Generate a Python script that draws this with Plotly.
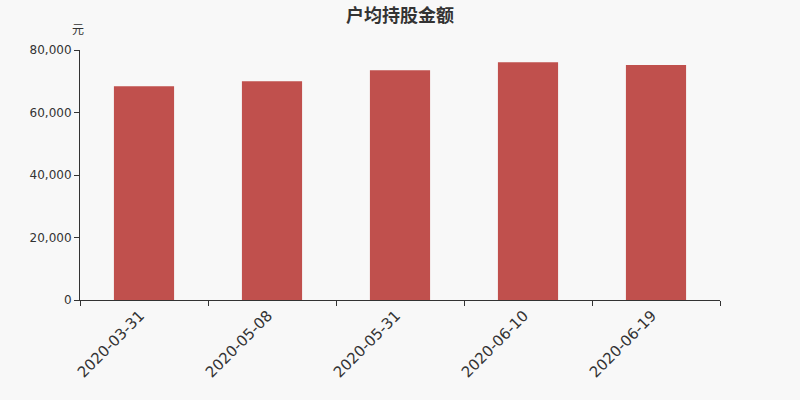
import plotly.graph_objects as go

# 户均持股金额 (元)
dates = ["2020-03-31", "2020-05-08", "2020-05-31", "2020-06-10", "2020-06-19"]
amounts = [68400, 70000, 73500, 76050, 75200]

BG = "#f8f8f8"
BAR_COLOR = "#c0504d"
AXIS_COLOR = "#333333"

fig = go.Figure()
fig.add_trace(go.Bar(
    x=dates, y=amounts,
    marker=dict(color=BAR_COLOR, line=dict(width=0)),
    width=0.47,
    hovertemplate="%{x}<br>%{y:,.0f} 元<extra></extra>",
))

fig.update_layout(
    width=800, height=400,
    paper_bgcolor=BG, plot_bgcolor=BG,
    margin=dict(l=80, r=80, t=50, b=100),
    showlegend=False,
    title=dict(
        text="<b>户均持股金额</b>", x=0.5, xanchor="center", y=0.962, yanchor="middle",
        font=dict(family="Noto Sans CJK SC", size=18, color="#333333"),
    ),
    font=dict(family="DejaVu Sans", color=AXIS_COLOR),
)

fig.update_xaxes(
    type="category",
    showline=True, linecolor=AXIS_COLOR, linewidth=1,
    ticks="outside", ticklen=5, tickcolor=AXIS_COLOR, tickson="boundaries",
    tickangle=-45, tickfont=dict(size=15, color=AXIS_COLOR),
    ticklabelshift=-4,
    showgrid=False,
)
fig.update_yaxes(
    range=[0, 80000], tickvals=[0, 20000, 40000, 60000, 80000],
    tickformat=",d",
    showline=True, linecolor=AXIS_COLOR, linewidth=1,
    ticks="outside", ticklen=5, tickcolor=AXIS_COLOR,
    tickfont=dict(size=12, color=AXIS_COLOR),
    showgrid=False, zeroline=False,
)

fig.add_annotation(
    text="元", xref="paper", yref="paper", x=0, y=1, xshift=-2, yshift=22,
    showarrow=False, xanchor="center", yanchor="middle",
    font=dict(family="Noto Sans CJK SC", size=12, color=AXIS_COLOR),
)

# page body margin would push the 800x400 figure out of the window
fig.write_html("out.html", config={"displayModeBar": False},
               post_script="document.body.style.margin='0';")
